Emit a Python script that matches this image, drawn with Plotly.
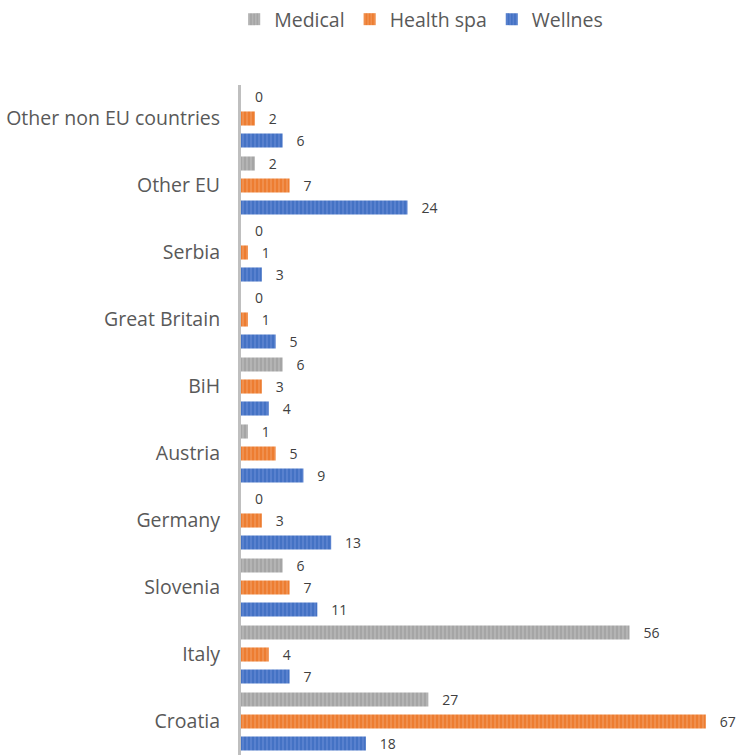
import plotly.graph_objects as go

# Visitors by country of origin and type of stay
countries = ["Croatia", "Italy", "Slovenia", "Germany", "Austria", "BiH",
             "Great Britain", "Serbia", "Other EU", "Other non EU countries"]
medical = [27, 56, 6, 0, 1, 6, 0, 0, 2, 0]
health_spa = [67, 4, 7, 3, 5, 3, 1, 1, 7, 2]
wellnes = [18, 7, 11, 13, 9, 4, 5, 3, 24, 6]

series = [
    ("Wellnes", wellnes, "#4472C4", "#7d9be0"),
    ("Health spa", health_spa, "#ED7D31", "#f6b080"),
    ("Medical", medical, "#A5A5A5", "#cfcfcf"),
]

fig = go.Figure()
for name, vals, color, stripe in series:
    fig.add_trace(go.Bar(
        y=countries, x=vals, name=name, orientation="h",
        marker=dict(color=color, line=dict(width=0),
                    pattern=dict(shape="|", size=4, solidity=0.35,
                                 fgcolor=stripe, bgcolor=color)),
        text=vals, texttemplate="\u00a0\u00a0\u00a0%{x}",
        textposition="outside", cliponaxis=False, constraintext="none",
        textfont=dict(family="Open Sans", size=14, color="#404040"),
    ))

fig.update_layout(
    width=738, height=755,
    margin=dict(l=241, r=10, t=84, b=0),
    paper_bgcolor="white", plot_bgcolor="white",
    barmode="group", bargap=0.015, bargroupgap=0.36,
    font=dict(family="Open Sans", color="#595959"),
    legend=dict(orientation="h", traceorder="reversed",
                x=0.37, xanchor="center", y=1.097, yanchor="middle",
                font=dict(size=19.5, color="#595959"),
                itemwidth=30),
    xaxis=dict(range=[0, 70.2], visible=False, showgrid=False, zeroline=False),
    yaxis=dict(showline=True, linecolor="#BFBFBF", linewidth=3,
               showgrid=False, ticks="", ticklabelstandoff=14,
               tickfont=dict(size=19.5, color="#595959")),
)

fig.write_html("out.html")
